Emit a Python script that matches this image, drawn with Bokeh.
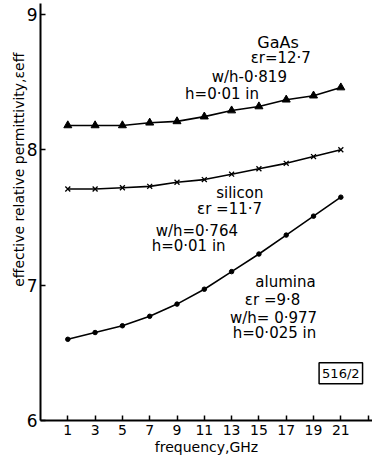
from bokeh.plotting import figure
from bokeh.models import Range1d, FixedTicker, Label
from bokeh.embed import file_html
from bokeh.resources import INLINE

freq = [1, 3, 5, 7, 9, 11, 13, 15, 17, 19, 21]
gaas = [8.18, 8.18, 8.18, 8.20, 8.21, 8.245, 8.29, 8.32, 8.37, 8.40, 8.46]
silicon = [7.71, 7.71, 7.72, 7.73, 7.76, 7.78, 7.82, 7.86, 7.90, 7.95, 8.00]
alumina = [6.60, 6.65, 6.70, 6.77, 6.86, 6.97, 7.10, 7.23, 7.37, 7.51, 7.65]

x_ticks = [1, 3, 5, 7, 9, 11, 13, 15, 17, 19, 21, 23]
y_ticks = [6, 7, 8, 9]

FONT = "DejaVu Sans"

p = figure(width=372, height=462, output_backend="svg", toolbar_location=None,
           x_range=Range1d(-1, 23.32), y_range=Range1d(6, 9.081),
           min_border_left=40, min_border_right=0, min_border_top=3, min_border_bottom=42)
p.outline_line_color = None
p.grid.visible = False
p.background_fill_color = "white"
p.border_fill_color = "white"

for ax in (p.xaxis[0], p.yaxis[0]):
    ax.axis_line_width = 2
    ax.axis_line_color = "black"
    ax.major_tick_in = 5
    ax.major_tick_out = 0
    ax.minor_tick_in = 0
    ax.minor_tick_out = 0
    ax.major_tick_line_width = 1.5
    ax.major_label_text_font = FONT
    ax.axis_label_text_font = FONT
    ax.axis_label_text_font_style = "normal"
    ax.major_label_text_color = "black"
    ax.axis_label_text_color = "black"

p.xaxis.ticker = FixedTicker(ticks=x_ticks)
p.xaxis.major_label_overrides = {23: ""}
p.xaxis.major_label_text_font_size = "14px"
p.xaxis.major_label_standoff = 4
p.xaxis.axis_label = "frequency,GHz"
p.xaxis.axis_label_text_font_size = "14px"
p.xaxis.axis_label_standoff = 1

p.yaxis.ticker = FixedTicker(ticks=y_ticks)
p.yaxis.major_label_text_font_size = "17px"
p.yaxis.major_label_standoff = 3
# leading no-break spaces shift the title up along the axis, as in the reference
p.yaxis.axis_label = "\u00a0" * 19 + "effective relative permittivity,\u03b5eff"
p.yaxis.axis_label_text_font_size = "14px"
p.yaxis.axis_label_standoff = -3

lw = 1.6
p.line(freq, gaas, line_color="black", line_width=lw)
p.scatter(freq, gaas, marker="triangle", size=8, fill_color="black", line_color="black")
p.line(freq, silicon, line_color="black", line_width=lw)
p.scatter(freq, silicon, marker="x", size=7, line_color="black", line_width=1.3)
p.line(freq, alumina, line_color="black", line_width=lw)
p.scatter(freq, alumina, marker="circle", size=4.5, fill_color="black", line_color="black")

notes = [
    ("GaAs", 16.4, 8.79, "16px"),
    ("\u03b5r=12\u00b77", 16.6, 8.68, "15px"),
    ("w/h-0\u00b7819", 14.3, 8.535, "15px"),
    ("h=0\u00b701 in", 12.3, 8.41, "15px"),
    ("silicon", 13.6, 7.68, "15px"),
    ("\u03b5r =11\u00b77", 12.85, 7.56, "15px"),
    ("w/h=0\u00b7764", 10.45, 7.40, "15px"),
    ("h=0\u00b701 in", 9.85, 7.29, "15px"),
    ("alumina", 16.95, 7.02, "15px"),
    ("\u03b5r =9\u00b78", 16.0, 6.887, "15px"),
    ("w/h= 0\u00b7977", 16.07, 6.754, "15px"),
    ("h=0\u00b7025 in", 16.14, 6.65, "15px"),
]
for t, x, y, fs in notes:
    p.add_layout(Label(x=x, y=y, text=t, text_align="center", text_baseline="middle",
                       text_font=FONT, text_font_size=fs, text_color="black"))

p.add_layout(Label(x=21.0, y=6.35, text="516/2", text_align="center", text_baseline="middle",
                   text_font=FONT, text_font_size="13px", text_color="black",
                   border_line_color="black", border_line_width=1.5,
                   background_fill_color="white", padding=3))

open("out.html", "w").write(file_html(p, INLINE))
